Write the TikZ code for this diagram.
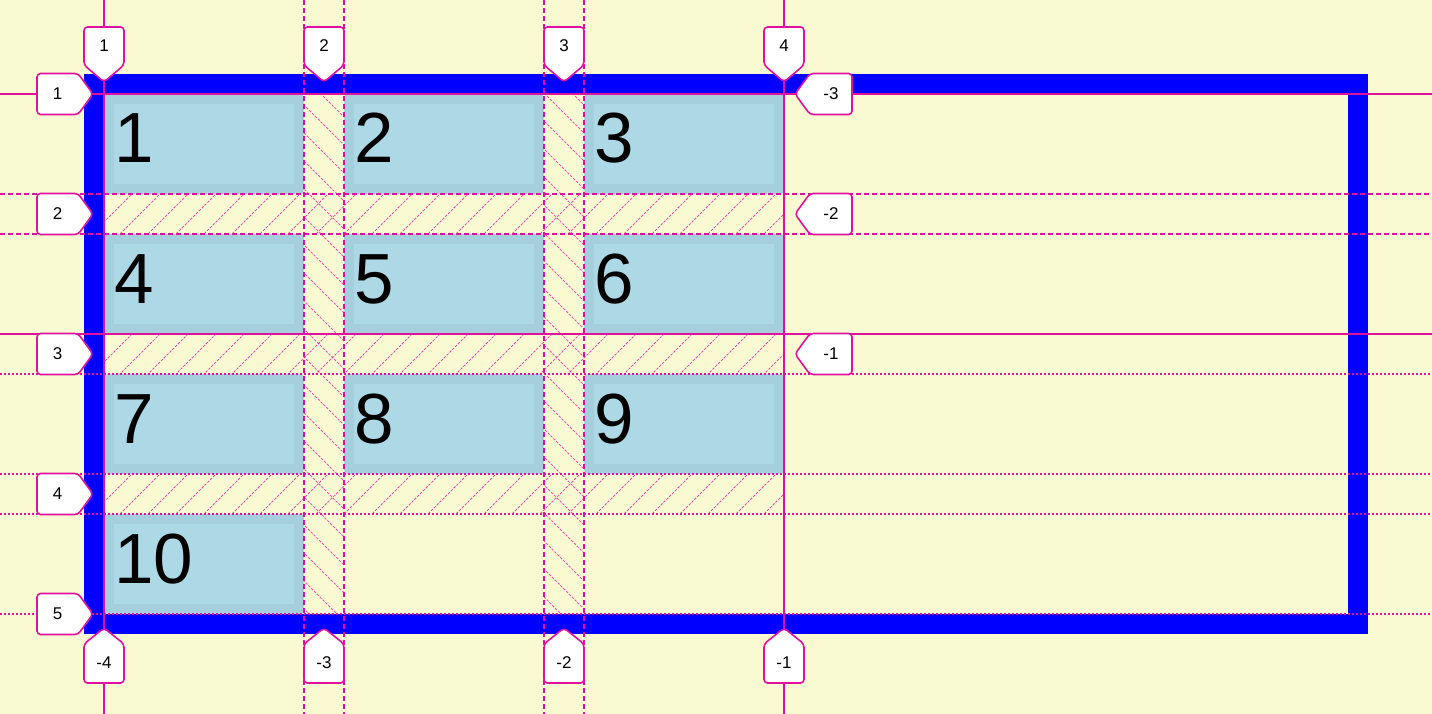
\documentclass[tikz,border=0pt]{standalone}
\usepackage{fontspec}
\setmainfont{Liberation Sans}
\definecolor{bg}{RGB}{249,249,210}
\definecolor{mag}{RGB}{225,17,160}
\definecolor{itemo}{RGB}{166,207,222}
\definecolor{itemi}{RGB}{173,216,230}
\definecolor{bord}{RGB}{0,0,255}
\newcommand\toplab[3]{%
  \draw[labbox] (#2,82) -- (#2-20,65) -- (#2-20,27) -- (#2+20,27) -- (#2+20,65) -- cycle;
  \node[labtxt] (#1) at (#2,46) {#3};}
\newcommand\botlab[3]{%
  \draw[labbox] (#2,628) -- (#2-20,644) -- (#2-20,683) -- (#2+20,683) -- (#2+20,644) -- cycle;
  \node[labtxt] (#1) at (#2,663) {#3};}
\newcommand\leftlab[3]{%
  \draw[labbox] (93,#2) -- (78,#2-20.5) -- (37,#2-20.5) -- (37,#2+20.5) -- (78,#2+20.5) -- cycle;
  \node[labtxt] (#1) at (57.5,#2) {#3};}
\newcommand\rightlab[3]{%
  \draw[labbox] (795,#2) -- (810,#2-20.5) -- (852,#2-20.5) -- (852,#2+20.5) -- (810,#2+20.5) -- cycle;
  \node[labtxt] (#1) at (831,#2) {#3};}
\begin{document}
\begin{tikzpicture}[x=1pt,y=-1pt,
  gsolid/.style={mag, line width=2pt},
  gdash/.style={mag, line width=2pt, dash pattern=on 5pt off 3pt},
  gdot/.style={mag, line width=2pt, dash pattern=on 2pt off 2pt},
  hatch/.style={mag, line width=1pt, opacity=0.7, dash pattern=on 2.5pt off 1.5pt},
  labbox/.style={draw=mag, fill=white, line width=1.6pt, rounded corners=3.5pt, line join=round},
  labtxt/.style={inner sep=0pt, font=\fontsize{17}{17}\selectfont},
  num/.style={inner sep=0pt, anchor=base west, font=\fontsize{71}{71}\selectfont}]
\useasboundingbox (0,0) rectangle (1432,714);
\fill[bg] (0,0) rectangle (1432,714);
% container border
\draw[bord, line width=20pt] (94,84) rectangle (1358,624);
% items
\foreach \n/\cx/\ry in {1/104/94, 2/344/94, 3/584/94, 4/104/234, 5/344/234, 6/584/234,
                        7/104/374, 8/344/374, 9/584/374, 10/104/514}{
  \fill[itemo, rounded corners=4pt] (\cx,\ry) rectangle ++(200,100);
  \fill[itemi] (\cx+10,\ry+10) rectangle ++(180,80);
  \node[num] (item\n) at (\cx+10,\ry+69) {\n};
}
% row gap hatching
\begin{scope}
  \clip (104,194) rectangle (784,234) (104,334) rectangle (784,374) (104,474) rectangle (784,514);
  \foreach \c in {270,298,...,1330} \draw[hatch] (\c,0) -- (\c-714,714);
\end{scope}
% column gap hatching
\begin{scope}
  \clip (304,94) rectangle (344,614) (544,94) rectangle (584,614);
  \foreach \c in {-361,-333,...,535} \draw[hatch] (\c,0) -- (\c+714,714);
\end{scope}
% grid lines
\draw[gsolid] (104,0) -- (104,714);
\draw[gdash] (304,0) -- (304,714);
\draw[gdash] (344,0) -- (344,714);
\draw[gdash] (544,0) -- (544,714);
\draw[gdash] (584,0) -- (584,714);
\draw[gsolid] (784,0) -- (784,714);
\draw[gsolid] (0,94) -- (1432,94);
\draw[gdash] (0,194) -- (1432,194);
\draw[gdash] (0,234) -- (1432,234);
\draw[gsolid] (0,334) -- (1432,334);
\draw[gdot] (0,374) -- (1432,374);
\draw[gdot] (0,474) -- (1432,474);
\draw[gdot] (0,514) -- (1432,514);
\draw[gdot] (0,614) -- (1432,614);
% labels
\toplab{t1}{104}{1}
\toplab{t2}{324}{2}
\toplab{t3}{564}{3}
\toplab{t4}{784}{4}
\botlab{b1}{104}{-4}
\botlab{b2}{324}{-3}
\botlab{b3}{564}{-2}
\botlab{b4}{784}{-1}
\leftlab{l1}{94}{1}
\leftlab{l2}{214}{2}
\leftlab{l3}{354}{3}
\leftlab{l4}{494}{4}
\leftlab{l5}{614}{5}
\rightlab{r1}{94}{-3}
\rightlab{r2}{214}{-2}
\rightlab{r3}{354}{-1}
\end{tikzpicture}
\end{document}
